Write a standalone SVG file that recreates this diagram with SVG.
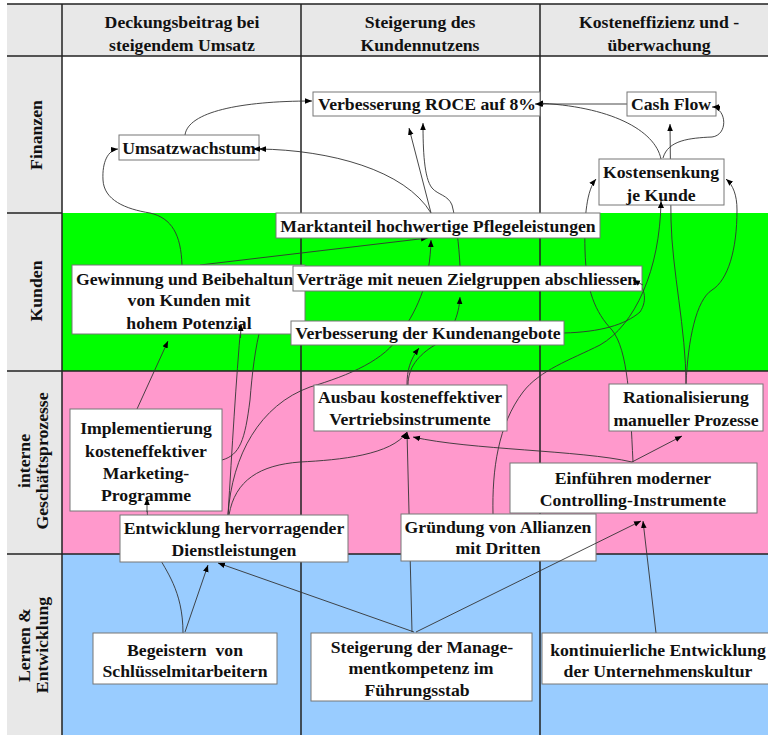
<svg xmlns="http://www.w3.org/2000/svg" width="768" height="735" viewBox="0 0 768 735">
<defs>
<style>
.t{font-family:"Liberation Serif","Times New Roman",serif;font-weight:bold;font-size:17.7px;fill:#111;text-anchor:middle}
.box{fill:#fff;stroke:#777;stroke-width:1}
.grid{stroke:#222;stroke-width:1.5;fill:none}
.c{fill:none;stroke:#333;stroke-width:0.9;marker-end:url(#ah)}
</style>
<marker id="ah" viewBox="0 0 10 10" refX="10" refY="5" markerWidth="7" markerHeight="7" markerUnits="userSpaceOnUse" orient="auto">
<path d="M0,1 L10,5 L0,9 z" fill="#000"/>
</marker>
</defs>
<g id="background">
<rect x="0" y="0" width="768" height="735" fill="#fff"/>
<rect x="7" y="4" width="761" height="52" fill="#e8e8e8"/>
<rect x="7" y="56" width="55" height="679" fill="#e8e8e8"/>
<rect x="62" y="56" width="706" height="157" fill="#fff"/>
<rect x="62" y="213" width="706" height="158" fill="#00ff00"/>
<rect x="62" y="371" width="706" height="183" fill="#ff99cc"/>
<rect x="62" y="554" width="706" height="181" fill="#99ccff"/>
<path class="grid" d="M7,4 H768 M7,56 H768 M7,213 H62 M7,371 H768 M7,554 H768 M62,4 V735 M301,4 V735 M540,4 V735"/>
</g>
<g id="headers">
<text class="t" x="182" y="28">Deckungsbeitrag bei</text>
<text class="t" x="182" y="51">steigendem Umsatz</text>
<text class="t" x="420" y="28">Steigerung des</text>
<text class="t" x="420" y="51">Kundennutzens</text>
<text class="t" x="659" y="28">Kosteneffizienz und -</text>
<text class="t" x="659" y="51">überwachung</text>
<text class="t" transform="translate(42,135) rotate(-90)">Finanzen</text>
<text class="t" transform="translate(42,291) rotate(-90)">Kunden</text>
<text class="t" transform="translate(30,461) rotate(-90)">interne</text>
<text class="t" transform="translate(48,461) rotate(-90)">Geschäftsprozesse</text>
<text class="t" transform="translate(30,645) rotate(-90)">Lernen &amp;</text>
<text class="t" transform="translate(48,645) rotate(-90)">Entwicklung</text>
</g>
<g id="connectors">
<path class="c" d="M185,135 C188,112 240,101 312,101"/>
<path class="c" d="M182,265 C181,235 172,218 150,213 C125,209 104,200 103,180 C102,162 108,150 118,149"/>
<path class="c" d="M431,213 C405,170 330,150 259,149"/>
<path class="c" d="M431,213 L409,128"/>
<path class="c" d="M460,266 C459,245 456,220 452,205 C448,195 438,195 432,188 C424,178 423,150 423,123"/>
<path class="c" d="M627,104 L536,104"/>
<path class="c" d="M661,159 C655,130 610,106 536,103"/>
<path class="c" d="M663,158 C668,140 690,138 712,137 C728,135 727,110 713,107"/>
<path class="c" d="M686,384 C686,330 672,270 671,220 L670,124"/>
<path class="c" d="M686,384 C688,340 696,300 712,290 C728,280 737,250 737,210 C737,195 733,185 726,179"/>
<path class="c" d="M633,462 C630,400 628,350 612,330 C595,312 586,290 585,250 C584,215 587,190 596,179"/>
<path class="c" d="M493,514 C492,470 498,425 523,392 C540,370 570,360 600,345 C635,325 660,270 661,201"/>
<path class="c" d="M564,333 C600,332 625,325 640,312 C648,300 645,285 633,280"/>
<path class="c" d="M407,385 C407,370 410,360 419,348"/>
<path class="c" d="M408,385 C408,368 418,355 435,345 C452,335 459,315 460,297"/>
<path class="c" d="M228,515 C232,450 236,380 241,324"/>
<path class="c" d="M228,515 C232,455 260,405 310,387 C350,375 385,360 400,335 C420,305 430,280 431,240"/>
<path class="c" d="M229,515 C235,480 260,465 300,462 C340,460 392,455 407,432"/>
<path class="c" d="M222,460 C240,455 245,440 250,400 C254,350 262,290 292,280"/>
<path class="c" d="M137,409 L168,341"/>
<path class="c" d="M183,633 C183,590 165,570 158,555 C148,535 147,520 147,498"/>
<path class="c" d="M185,632 L208,565"/>
<path class="c" d="M414,632 L218,563"/>
<path class="c" d="M412,632 L407,432"/>
<path class="c" d="M656,633 L643,521"/>
<path class="c" d="M632,462 C580,450 470,450 413,437"/>
<path class="c" d="M632,462 L682,436"/>
<path class="c" d="M200,265 L428,238"/>
</g>
<g id="n-roce"><rect class="box" x="313" y="92" width="227" height="24"/><text class="t" x="427" y="110">Verbesserung ROCE auf 8%</text></g>
<g id="n-cashflow"><rect class="box" x="627" y="92" width="89" height="24"/><text class="t" x="671" y="110">Cash Flow</text></g>
<g id="n-umsatz"><rect class="box" x="119" y="135" width="140" height="25"/><text class="t" x="189" y="154">Umsatzwachstum</text></g>
<g id="n-kosten"><rect class="box" x="599" y="159" width="125" height="46"/><text class="t" x="661" y="178">Kostensenkung</text><text class="t" x="661" y="201">je Kunde</text></g>
<g id="n-markt"><rect class="box" x="276" y="213" width="324" height="25"/><text class="t" x="438" y="232">Marktanteil hochwertige Pflegeleistungen</text></g>
<g id="n-gewinnung"><rect class="box" x="72" y="265" width="233" height="69"/><text class="t" x="76" y="285" style="text-anchor:start">Gewinnung und Beibehaltun</text><text class="t" x="189" y="306">von Kunden mit</text><text class="t" x="189" y="329">hohem Potenzial</text></g>
<g id="n-vertraege"><rect class="box" x="293" y="266" width="349" height="25"/><text class="t" x="467" y="285">Verträge mit neuen Zielgruppen abschliessen</text></g>
<g id="n-angebote"><rect class="box" x="291" y="321" width="273" height="24"/><text class="t" x="428" y="339">Verbesserung der Kundenangebote</text></g>
<g id="n-ausbau"><rect class="box" x="314" y="385" width="193" height="46"/><text class="t" x="410" y="403">Ausbau kosteneffektiver</text><text class="t" x="410" y="425">Vertriebsinstrumente</text></g>
<g id="n-rational"><rect class="box" x="609" y="384" width="154" height="47"/><text class="t" x="686" y="403">Rationalisierung</text><text class="t" x="686" y="426">manueller Prozesse</text></g>
<g id="n-implement"><rect class="box" x="70" y="409" width="152" height="102"/><text class="t" x="146" y="434">Implementierung</text><text class="t" x="146" y="457">kosteneffektiver</text><text class="t" x="146" y="479">Marketing-</text><text class="t" x="146" y="501">Programme</text></g>
<g id="n-controlling"><rect class="box" x="510" y="463" width="247" height="50"/><text class="t" x="633" y="484">Einführen moderner</text><text class="t" x="633" y="506">Controlling-Instrumente</text></g>
<g id="n-entwicklung"><rect class="box" x="120" y="515" width="228" height="47"/><text class="t" x="234" y="534">Entwicklung hervorragender</text><text class="t" x="234" y="556">Dienstleistungen</text></g>
<g id="n-allianzen"><rect class="box" x="401" y="514" width="195" height="47"/><text class="t" x="498" y="533">Gründung von Allianzen</text><text class="t" x="498" y="554">mit Dritten</text></g>
<g id="n-begeistern"><rect class="box" x="93" y="633" width="184" height="51"/><text class="t" x="185" y="656" style="white-space:pre">Begeistern  von</text><text class="t" x="185" y="677">Schlüsselmitarbeitern</text></g>
<g id="n-management"><rect class="box" x="311" y="633" width="221" height="68"/><text class="t" x="422" y="653">Steigerung der Manage-</text><text class="t" x="421" y="674">mentkompetenz im</text><text class="t" x="417" y="696">Führungsstab</text></g>
<g id="n-kultur"><rect class="box" x="542" y="633" width="236" height="51"/><text class="t" x="658" y="656">kontinuierliche Entwicklung</text><text class="t" x="658" y="677">der Unternehmenskultur</text></g>
<g id="connector-tips">
<path class="c" d="M416,632 L641,521"/>
<path class="c" d="M240.5,338 L241,324"/>
<path class="c" d="M147,512 L147,498"/>
<path class="c" d="M661,207 L661,201"/>
<path class="c" d="M643,285 L633,280"/>
<path class="c" d="M263,149 L253,149"/>
<path class="c" d="M544,104 L535,104"/>
<path class="c" d="M719,107 L712,107"/>
</g>
</svg>
